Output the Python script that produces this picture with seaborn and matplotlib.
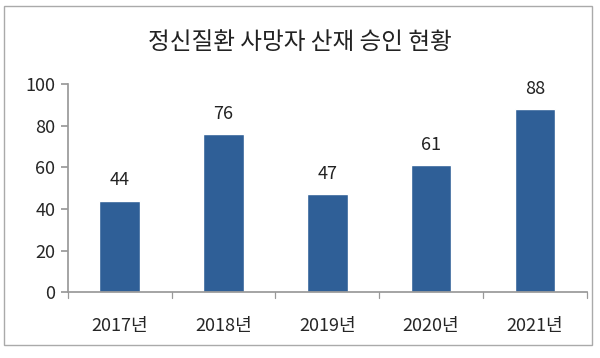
import matplotlib
matplotlib.use("Agg")
import matplotlib.pyplot as plt
from matplotlib.patches import Rectangle
import seaborn as sns
import pandas as pd

years = ["2017년", "2018년", "2019년", "2020년", "2021년"]
counts = [44, 76, 47, 61, 88]
title = "정신질환 사망자 산재 승인 현황"

sns.set_theme(style="white")
plt.rcParams['font.family'] = ['Noto Sans CJK KR', 'DejaVu Sans']

df = pd.DataFrame({"year": years, "count": counts})

fig = plt.figure(figsize=(6.0, 3.58), dpi=100)
ax = fig.add_axes([0.113, 0.184, 0.865, 0.581])

sns.barplot(data=df, x="year", y="count", color="#2f5f97", width=0.39,
            saturation=1, ax=ax)

for i, v in enumerate(counts):
    ax.annotate(str(v), (i, v), xytext=(0, 8), textcoords="offset points",
                ha="center", va="bottom", fontsize=13, color="#222222")

ax.set_ylim(0, 100)
ax.set_xlim(-0.5, 4.5)
ax.set_yticks(range(0, 101, 20))
ax.set_xlabel("")
ax.set_ylabel("")
ax.tick_params(axis="y", left=True, length=5, color="#999999",
               labelsize=13, pad=4)
ax.tick_params(axis="x", bottom=False, labelsize=13, pad=12)
# boundary ticks between categories
for xb in [-0.5, 0.5, 1.5, 2.5, 3.5, 4.5]:
    ax.plot([xb, xb], [0, -0.03], transform=ax.get_xaxis_transform(),
            color="#999999", lw=0.9, clip_on=False)
for s in ["top", "right"]:
    ax.spines[s].set_visible(False)
ax.spines["left"].set_color("#999999")
ax.spines["bottom"].set_color("#999999")

fig.text(0.5, 0.882, title, ha="center", va="center", fontsize=17,
         color="#222222")
fig.patches.append(Rectangle((0.007, 0.036), 0.98, 0.947,
                             transform=fig.transFigure, fill=False,
                             edgecolor="#aaaaaa", lw=1))

fig.savefig("out.png", dpi=100, facecolor="white")
